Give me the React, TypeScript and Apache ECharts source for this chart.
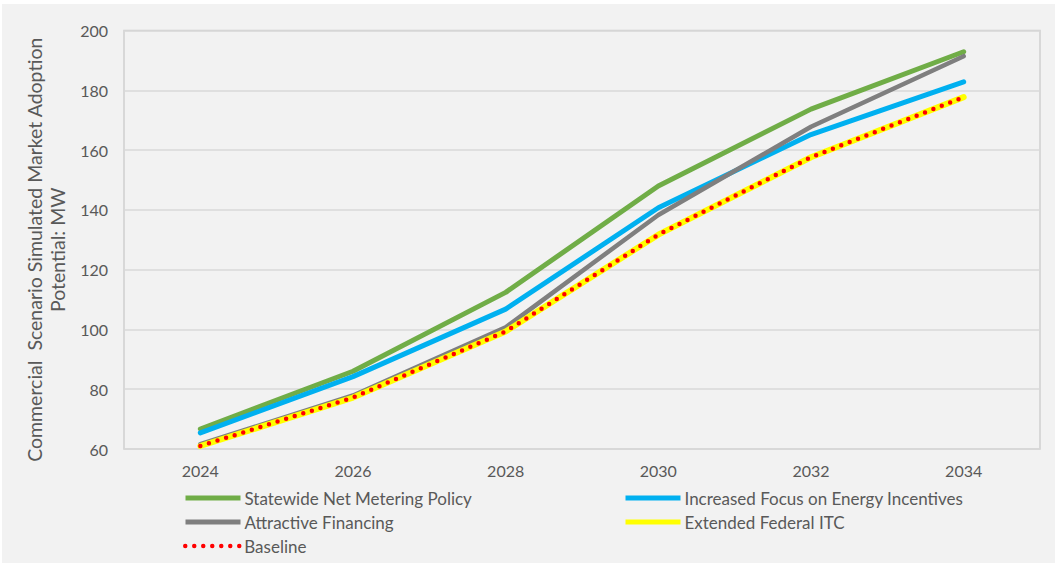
import React, { useEffect, useRef } from "react";
import * as echarts from "echarts";

// Commercial solar adoption scenarios, MW
const years = ["2024", "2026", "2028", "2030", "2032", "2034"];
const netMetering = [66.7, 86.0, 112.4, 148.0, 173.7, 192.9];
const energyIncentives = [65.4, 84.2, 106.8, 140.7, 165.2, 182.8];
const attractiveFinancing = [61.6, 77.9, 100.7, 138.3, 167.8, 191.4];
const extendedItc = [61.0, 77.2, 99.3, 131.7, 157.6, 177.7];
const baseline = [61.0, 77.2, 99.3, 131.7, 157.6, 177.7];

const FONT = "Lato, 'Noto Sans', sans-serif";
const TEXT = "#595959";
const BASELINE_DASH = [0, 9];

// legend entries: name, left edge, row centre (chart coordinates)
const legendSlots: [string, number, number][] = [
  ["Statewide Net Metering Policy", 181, 494],
  ["Attractive Financing", 181, 518],
  ["Baseline", 181, 542],
  ["Increased Focus on Energy Incentives", 621, 494],
  ["Extended Federal ITC", 621, 518],
];

export default function App() {
  const ref = useRef<HTMLDivElement>(null);

  useEffect(() => {
    if (!ref.current) return;
    const chart = echarts.init(ref.current, undefined, { renderer: "svg" });

    const line = (name: string, data: number[], color: string, width: number, extra: any = {}) => ({
      name,
      type: "line",
      data,
      symbol: "none",
      smooth: false,
      lineStyle: { color, width, cap: "round", join: "round", ...extra },
      itemStyle: { color },
      emphasis: { disabled: true },
    });

    chart.setOption({
      animation: false,
      backgroundColor: "#F2F2F2",
      textStyle: { fontFamily: FONT },
      grid: {
        left: 122,
        right: 15,
        top: 26.5,
        bottom: 114,
        show: true,
        borderColor: "#D0D0D0",
        borderWidth: 1.5,
        backgroundColor: "#F2F2F2",
      },
      legend: legendSlots.map(([name, left, cy]) => {
        const isBaseline = name === "Baseline";
        return {
          orient: "horizontal",
          left,
          top: cy - 9,
          padding: 0,
          itemWidth: 55,
          itemHeight: 12,
          itemGap: 4,
          selectedMode: false,
          itemStyle: { opacity: 0 },
          lineStyle: isBaseline
            ? { width: 4.5, type: BASELINE_DASH, cap: "round" }
            : { width: 5, cap: "butt" },
          data: [name],
          textStyle: { color: TEXT, fontSize: 17, fontFamily: FONT, lineHeight: 18, padding: [0, 0, 0, -1] },
        };
      }),
      xAxis: {
        type: "category",
        data: years,
        boundaryGap: true,
        axisLine: { show: false },
        axisTick: { show: false },
        axisLabel: { color: TEXT, fontSize: 16, fontFamily: FONT, margin: 13 },
        splitLine: { show: false },
      },
      yAxis: {
        type: "value",
        min: 60,
        max: 200,
        interval: 20,
        name: "Commercial  Scenario Simulated Market Adoption\nPotential: MW",
        nameLocation: "middle",
        nameRotate: 90,
        nameGap: 55,
        nameTextStyle: {
          color: TEXT,
          fontSize: 19.5,
          fontFamily: FONT,
          lineHeight: 23,
          align: "center",
          padding: [0, 20, 0, 0],
        },
        axisLine: { show: false },
        axisTick: { show: false },
        axisLabel: { color: TEXT, fontSize: 16, fontFamily: FONT, margin: 16 },
        splitLine: { lineStyle: { color: "#D9D9D9", width: 1.5 } },
      },
      series: [
        line("Statewide Net Metering Policy", netMetering, "#70AD47", 5),
        line("Increased Focus on Energy Incentives", energyIncentives, "#00B0F0", 5),
        line("Attractive Financing", attractiveFinancing, "#7F7F7F", 4.5),
        line("Extended Federal ITC", extendedItc, "#FFFF00", 6),
        line("Baseline", baseline, "#FF0000", 4.5, { type: BASELINE_DASH, cap: "round" }),
      ],
    });

    return () => chart.dispose();
  }, []);

  return (
    <div style={{ position: "fixed", left: 0, top: 0, width: 1055, height: 563, background: "#FFFFFF" }}>
      <div ref={ref} style={{ position: "absolute", left: 2, top: 4, width: 1053, height: 559 }} />
    </div>
  );
}
